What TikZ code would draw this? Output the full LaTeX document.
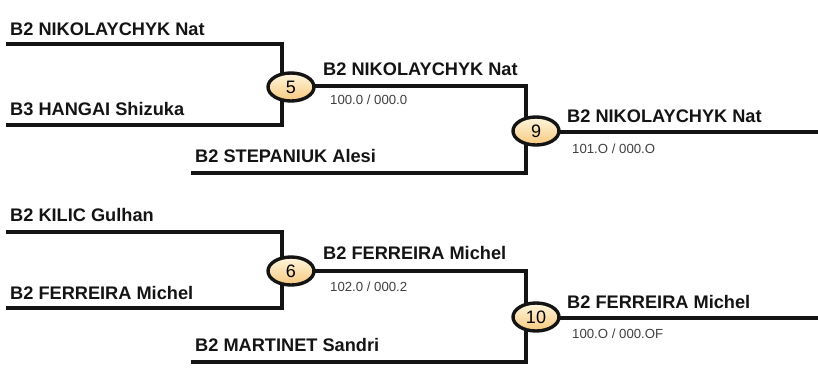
\documentclass[tikz,border=0pt]{standalone}
\usepackage{fontspec}
\setmainfont{Liberation Sans}
\usetikzlibrary{shapes.geometric}
\definecolor{ctop}{HTML}{FFF6DF}
\definecolor{cbot}{HTML}{F6C87E}
\begin{document}
\begin{tikzpicture}[x=1pt,y=-1pt,
  pname/.style={anchor=base west,inner sep=0pt,font=\fontsize{18.2}{20}\selectfont\bfseries,text=black!92},
  pscore/.style={anchor=base west,inner sep=0pt,font=\fontsize{13.2}{15}\selectfont,text=black!75},
  wire/.style={line width=3.1pt,line cap=rect,draw=black!92},
  matchno/.style={ellipse,draw=black!92,line width=3.4pt,minimum width=46pt,minimum height=28pt,inner sep=0pt,
    top color=ctop,bottom color=cbot,font=\fontsize{18}{20}\selectfont}]
\useasboundingbox (0,0) rectangle (818,372);
% coordinates
\coordinate (a1) at (8,44);
\coordinate (a2) at (8,125);
\coordinate (v5) at (282,86);
\coordinate (b1) at (193,173);
\coordinate (v9) at (526,132);
\coordinate (e9) at (818,132);
\coordinate (c1) at (8,232);
\coordinate (c2) at (8,308);
\coordinate (v6) at (282,271);
\coordinate (d1) at (193,362);
\coordinate (v10) at (526,318);
\coordinate (e10) at (818,318);
% match 5
\draw[wire] (a1) -| (v5) |- (a2);
\draw[wire] (v5) -- (v5 -| v9) |- (b1);
% match 9
\draw[wire] (v9) -- (e9);
% match 6
\draw[wire] (c1) -| (v6) |- (c2);
\draw[wire] (v6) -- (v6 -| v10) |- (d1);
% match 10
\draw[wire] (v10) -- (e10);
% circles
\node[matchno] (m5) at (291,87) {5};
\node[matchno] (m9) at (536,131) {9};
\node[matchno] (m6) at (291,271) {6};
\node[matchno] (m10) at (536,317) {10};
% names
\node[pname] (n1) at (10,35) {B2 NIKOLAYCHYK Nat};
\node[pname] (n2) at (10,115) {B3 HANGAI Shizuka};
\node[pname] (n3) at (323,75) {B2 NIKOLAYCHYK Nat};
\node[pscore] (s5) at (330,104) {100.0 / 000.0};
\node[pname] (n4) at (195,162) {B2 STEPANIUK Alesi};
\node[pname] (n5) at (567,122) {B2 NIKOLAYCHYK Nat};
\node[pscore] (s9) at (572,153) {101.O / 000.O};
\node[pname] (n6) at (10,221) {B2 KILIC Gulhan};
\node[pname] (n7) at (10,299) {B2 FERREIRA Michel};
\node[pname] (n8) at (323,259) {B2 FERREIRA Michel};
\node[pscore] (s6) at (330,291) {102.0 / 000.2};
\node[pname] (n9) at (195,351) {B2 MARTINET Sandri};
\node[pname] (n10) at (567,308) {B2 FERREIRA Michel};
\node[pscore] (s10) at (572,338) {100.O / 000.OF};
\end{tikzpicture}
\end{document}
